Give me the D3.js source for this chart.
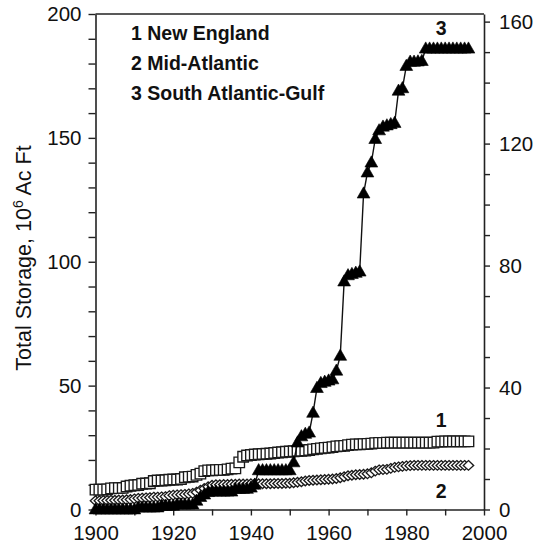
<!DOCTYPE html>
<html>
<head>
<meta charset="utf-8">
<script src="https://cdn.jsdelivr.net/npm/d3@7"></script>
<style>
  body { margin: 0; background: #fff; }
  text { font-family: "Liberation Sans", Arial, sans-serif; fill: #111; }
</style>
</head>
<body>
<div id="chart"></div>
<script>
// years 1900..1996, one value a year (10^6 acre-feet)
var years = d3.range(1900, 1997);

var newEngland = [
  8.0, 8.0, 8.0, 8.1, 8.5, 8.6, 8.6, 8.7, 9.3, 9.6,
  9.8, 9.9, 10.4, 10.5, 10.6, 11.5, 11.7, 11.7, 11.8, 12.0,
  12.1, 12.1, 12.3, 13.0, 13.2, 13.3, 14.0, 14.5, 15.5, 15.8,
  15.8, 15.9, 16.0, 16.0, 16.2, 16.5, 16.6, 19.0, 21.3, 21.8,
  22.0, 22.2, 22.3, 22.4, 22.5, 22.6, 22.8, 23.0, 23.1, 23.3,
  23.4, 23.5, 23.6, 23.7, 23.8, 24.0, 24.3, 24.5, 24.7, 24.9,
  25.0, 25.2, 25.5, 25.6, 25.7, 26.0, 26.2, 26.3, 26.3, 26.4,
  26.5, 26.6, 26.8, 26.9, 26.9, 27.0, 27.0, 27.0, 27.0, 27.0,
  27.0, 27.0, 27.0, 27.0, 27.0, 27.0, 27.0, 27.0, 27.4, 27.4,
  27.5, 27.5, 27.5, 27.5, 27.5, 27.5, 27.5
];

var midAtlantic = [
  3.5, 3.5, 3.6, 3.6, 3.7, 3.7, 3.8, 3.8, 3.9, 4.0,
  4.3, 4.5, 4.6, 4.7, 4.8, 5.0, 5.0, 5.1, 5.2, 5.6,
  5.8, 5.9, 6.0, 6.1, 6.3, 6.5, 7.0, 7.8, 8.5, 9.2,
  9.8, 10.0, 10.0, 10.1, 10.1, 10.2, 10.2, 10.3, 10.3, 10.3,
  10.4, 10.4, 10.4, 10.4, 10.4, 10.4, 10.5, 10.5, 10.5, 10.6,
  10.6, 10.8, 11.0, 11.2, 11.5, 11.7, 11.8, 11.9, 12.0, 12.1,
  12.2, 12.3, 12.5, 12.8, 13.2, 13.6, 13.8, 14.0, 14.1, 14.2,
  14.4, 14.8, 15.5, 16.0, 16.1, 16.2, 16.6, 17.0, 17.2, 17.4,
  17.6, 17.7, 17.8, 17.8, 17.8, 17.8, 17.8, 17.8, 17.8, 17.8,
  17.8, 17.8, 17.8, 17.8, 17.8, 17.8, 17.8
];

var southAtlanticGulf = [
  0, 0, 0, 0, 0, 0, 0, 0, 0, 0,
  0, 0.8, 0.8, 0.8, 0.8, 0.8, 0.8, 1.5, 1.5, 1.5,
  1.5, 2.0, 2.0, 2.0, 2.0, 2.0, 3.5, 5.0, 6.0, 7.0,
  7.2, 7.2, 7.2, 7.2, 7.2, 7.2, 8.3, 8.3, 8.3, 8.3,
  8.8, 10.0, 15.8, 15.8, 15.8, 15.8, 15.8, 15.8, 15.8, 15.8,
  15.8, 19.0, 27.0, 29.5, 30.5, 31.0, 39.0, 49.0, 51.0, 51.5,
  52.0, 52.5, 56.0, 62.0, 92.0, 94.5, 95.0, 95.5, 96.0, 127.5,
  136.0, 140.0, 149.5, 153.0, 154.5, 155.0, 155.5, 156.0, 169.0, 170.0,
  179.0, 180.7, 180.7, 180.8, 181.0, 186.0, 186.0, 186.0, 186.0, 186.0,
  186.0, 186.0, 186.0, 186.0, 186.0, 186.0, 186.0
];

var legendLabels = ["1 New England", "2 Mid-Atlantic", "3 South Atlantic-Gulf"];
var xTicks = d3.range(1900, 2001, 10);
var xLabels = d3.range(1900, 2001, 20);
var leftTicks = d3.range(0, 201, 10);
var leftLabels = [0, 50, 100, 150, 200];
var rightTicks = d3.range(0, 161, 10);
var rightLabels = [0, 40, 80, 120, 160];

var width = 533, height = 547;
var margin = {left: 95.5, right: 49, top: 14, bottom: 37.5};

var svg = d3.select("#chart").append("svg")
  .attr("width", width)
  .attr("height", height);

var x = d3.scaleLinear().domain([1900, 2000]).range([margin.left, width - margin.right]);
var y = d3.scaleLinear().domain([0, 200]).range([height - margin.bottom, margin.top]);
// right axis is a second unit scale sharing the same plot height
var yRight = d3.scaleLinear().domain([0, 162.5]).range([height - margin.bottom, margin.top]);

function styleAxis(g) {
  g.selectAll("path.domain").attr("stroke", "#222").attr("stroke-width", 1.6);
  g.selectAll(".tick line").attr("stroke", "#222").attr("stroke-width", 1.4);
  g.selectAll(".tick text")
    .attr("font-size", "20.5px")
    .attr("font-family", "Liberation Sans, Arial, sans-serif")
    .attr("fill", "#111");
}

// frame top line
svg.append("line")
  .attr("x1", x(1900)).attr("x2", x(2000))
  .attr("y1", y(200)).attr("y2", y(200))
  .attr("stroke", "#222").attr("stroke-width", 1.6);

svg.append("g")
  .attr("transform", "translate(0," + y(0) + ")")
  .call(d3.axisBottom(x).tickValues(xTicks).tickSize(6).tickPadding(10).tickSizeOuter(0)
    .tickFormat(function(d) { return xLabels.indexOf(d) >= 0 ? d : ""; }))
  .call(styleAxis);

svg.append("g")
  .attr("transform", "translate(" + x(1900) + ",0)")
  .call(d3.axisLeft(y).tickValues(leftTicks).tickSize(7).tickPadding(7).tickSizeOuter(0)
    .tickFormat(function(d) { return leftLabels.indexOf(d) >= 0 ? d : ""; }))
  .call(styleAxis);

svg.append("g")
  .attr("transform", "translate(" + x(2000) + ",0)")
  .call(d3.axisRight(yRight).tickValues(rightTicks).tickSize(6).tickPadding(9).tickSizeOuter(0)
    .tickFormat(function(d) { return rightLabels.indexOf(d) >= 0 ? d : ""; }))
  .call(styleAxis);

// y title with superscript
var title = svg.append("text")
  .attr("transform", "translate(31," + 258 + ") rotate(-90)")
  .attr("text-anchor", "middle")
  .attr("font-size", "21.5px");
title.append("tspan").text("Total Storage, 10");
title.append("tspan").attr("font-size", "14px").attr("dy", -8).text("6");
title.append("tspan").attr("dy", 8).text(" Ac Ft");

function pts(vals) {
  return vals.map(function(v, i) { return [years[i], v]; });
}

var line = d3.line()
  .x(function(d) { return x(d[0]); })
  .y(function(d) { return y(d[1]); });

var series = [
  {data: pts(newEngland), shape: "square"},
  {data: pts(midAtlantic), shape: "diamond"},
  {data: pts(southAtlanticGulf), shape: "triangle"}
];

var squarePath = d3.symbol().type(d3.symbolSquare).size(110)();
var trianglePath = "M0,-6.8L6.4,4.4L-6.4,4.4Z";
var diamondPath = "M0,-4.8L5.2,0L0,4.8L-5.2,0Z";

series.forEach(function(s) {
  var g = svg.append("g");
  g.append("path")
    .datum(s.data)
    .attr("fill", "none")
    .attr("stroke", "#111")
    .attr("stroke-width", 1.4)
    .attr("d", line);

  g.selectAll("path.mk")
    .data(s.data)
    .enter()
    .append("path")
    .attr("class", "mk")
    .attr("transform", function(d) { return "translate(" + x(d[0]) + "," + y(d[1]) + ")"; })
    .attr("d", s.shape == "square" ? squarePath : (s.shape == "diamond" ? diamondPath : trianglePath))
    .attr("fill", s.shape == "triangle" ? "#000" : "#fff")
    .attr("stroke", s.shape == "triangle" ? "#000" : "#1a1a1a")
    .attr("stroke-width", s.shape == "triangle" ? 0.6 : 1.35);
});

// legend
legendLabels.forEach(function(t, i) {
  svg.append("text")
    .attr("x", 131)
    .attr("y", 40 + i * 30)
    .attr("font-size", "19.5px")
    .attr("font-weight", "bold")
    .text(t);
});

// series numbers at the right end
var endLabels = [
  {t: "1", year: 1989, v: newEngland[newEngland.length - 1], dy: -14},
  {t: "2", year: 1989, v: midAtlantic[midAtlantic.length - 1], dy: 33},
  {t: "3", year: 1989, v: southAtlanticGulf[southAtlanticGulf.length - 1], dy: -14}
];
endLabels.forEach(function(e) {
  svg.append("text")
    .attr("x", x(e.year))
    .attr("y", y(e.v) + e.dy)
    .attr("text-anchor", "middle")
    .attr("font-size", "19.5px")
    .attr("font-weight", "bold")
    .text(e.t);
});
</script>
</body>
</html>
